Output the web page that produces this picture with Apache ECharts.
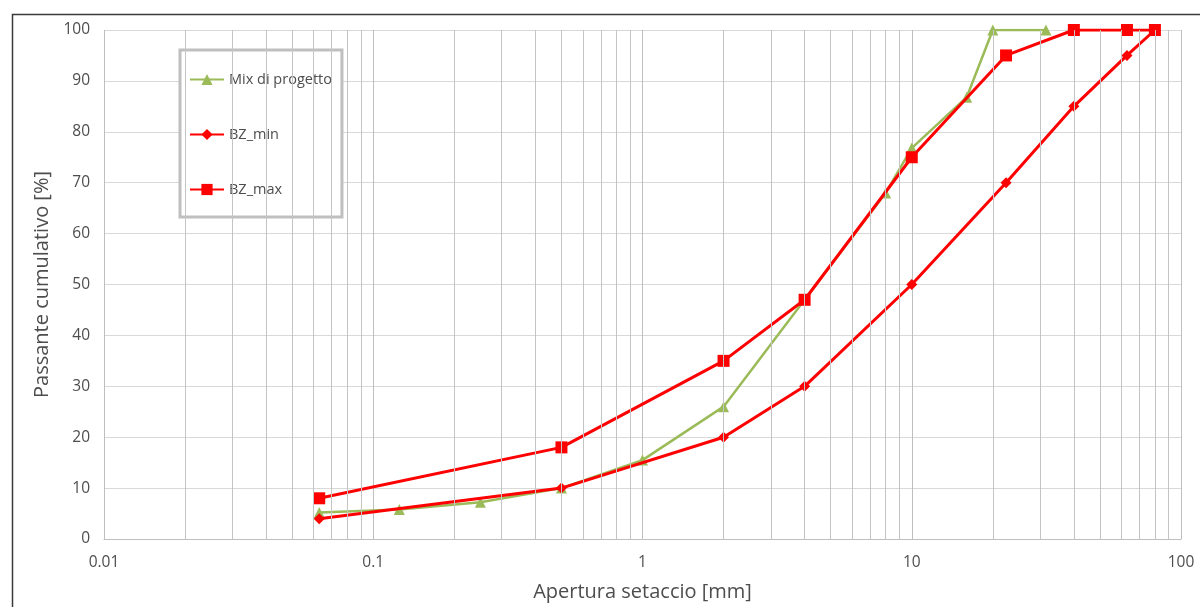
<!DOCTYPE html>
<html>
<head>
<meta charset="utf-8">
<script src="https://cdn.jsdelivr.net/npm/echarts@6/dist/echarts.min.js"></script>
<style>
  html, body { margin: 0; padding: 0; background: #fff; }
  #chart { width: 1200px; height: 607px; }
</style>
</head>
<body>
<div id="chart"></div>
<script>
// Sieve openings [mm] and cumulative passing [%]
const mixSieves = [0.063, 0.125, 0.25, 0.5, 1, 2, 4, 8, 10, 16, 20, 31.5];
const mixPassing = [5.2, 5.8, 7.2, 10, 15.5, 26, 47, 68, 76.8, 86.8, 100, 100];

const bandSieves = [0.063, 0.5, 2, 4, 10, 22.4, 40, 63, 80];
const bzMin = [4, 10, 20, 30, 50, 70, 85, 95, 100];
const bzMax = [8, 18, 35, 47, 75, 95, 100, 100, 100];

// Intermediate vertical grid lines of the log axis (2..9 within each decade)
const minorGrid = [
  0.02, 0.03, 0.04, 0.05, 0.06, 0.07, 0.08, 0.09,
  0.2, 0.3, 0.4, 0.5, 0.6, 0.7, 0.8, 0.9,
  2, 3, 4, 5, 6, 7, 8, 9,
  20, 30, 40, 50, 60, 70, 80, 90
];

const FONT = '"Open Sans", "Liberation Sans", sans-serif';
const TXT = '#4d4d4d';

function pairs(xs, ys) { return xs.map((x, i) => [x, ys[i]]); }

const chart = echarts.init(document.getElementById('chart'));
chart.setOption({
  animation: false,
  backgroundColor: '#fff',
  textStyle: { fontFamily: FONT },
  graphic: [{
    type: 'rect',
    left: 10, top: 12,
    shape: { width: 1250, height: 700 },
    style: { fill: 'none', stroke: '#3a3a3a', lineWidth: 1.5 },
    silent: true, z: -1
  }],
  grid: { left: 104, right: 19, top: 30, bottom: 68 },
  legend: {
    orient: 'vertical',
    left: 180, top: 50,
    padding: [22, 10, 20, 9],
    itemGap: 40,
    itemWidth: 34, itemHeight: 14,
    borderColor: '#bfbfbf', borderWidth: 3,
    backgroundColor: '#fff',
    textStyle: { fontFamily: FONT, fontSize: 14.5, color: TXT },
    data: ['Mix di progetto', 'BZ_min', 'BZ_max']
  },
  xAxis: {
    type: 'log', logBase: 10, min: 0.01, max: 100,
    name: 'Apertura setaccio [mm]',
    nameLocation: 'middle', nameGap: 43,
    nameTextStyle: { fontSize: 20, color: TXT, fontFamily: FONT },
    axisLine: { show: true, lineStyle: { color: '#bfbfbf', width: 1 } },
    axisTick: { show: false },
    axisLabel: {
      color: TXT, fontSize: 15.5, margin: 16,
      formatter: v => String(v)
    },
    splitLine: { show: true, lineStyle: { color: '#bfbfbf', width: 1 } }
  },
  yAxis: {
    type: 'value', min: 0, max: 100, interval: 10,
    name: 'Passante cumulativo [%]',
    nameLocation: 'middle', nameGap: 51,
    nameTextStyle: { fontSize: 20, color: TXT, fontFamily: FONT },
    axisLine: { show: false },
    axisTick: { show: false },
    axisLabel: { color: TXT, fontSize: 15.5, margin: 14 },
    splitLine: { show: true, lineStyle: { color: '#d9d9d9', width: 1 } }
  },
  series: [
    {
      name: 'Mix di progetto',
      type: 'line',
      data: pairs(mixSieves, mixPassing),
      symbol: 'triangle', symbolSize: 11,
      itemStyle: { color: '#9bbb59' },
      lineStyle: { color: '#9bbb59', width: 2.5 },
      z: 2,
      markLine: {
        silent: true, symbol: 'none', label: { show: false },
        lineStyle: { color: '#c4c4c4', width: 1, type: 'solid' },
        emphasis: { disabled: true },
        data: minorGrid.map(v => ({ xAxis: v }))
      }
    },
    {
      name: 'BZ_min',
      type: 'line',
      data: pairs(bandSieves, bzMin),
      symbol: 'diamond', symbolSize: 11,
      itemStyle: { color: '#ff0000' },
      lineStyle: { color: '#ff0000', width: 3 },
      z: 3
    },
    {
      name: 'BZ_max',
      type: 'line',
      data: pairs(bandSieves, bzMax),
      symbol: 'rect', symbolSize: 12,
      itemStyle: { color: '#ff0000' },
      lineStyle: { color: '#ff0000', width: 3 },
      z: 4
    }
  ]
});
</script>
</body>
</html>
